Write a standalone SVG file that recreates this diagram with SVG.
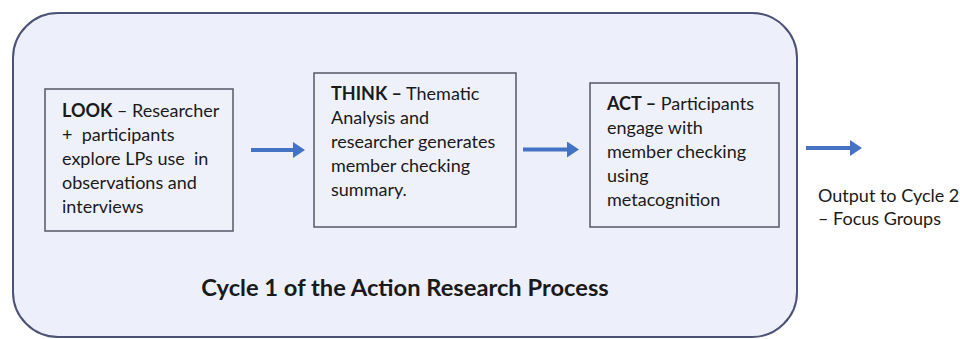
<svg xmlns="http://www.w3.org/2000/svg" width="960" height="339" viewBox="0 0 960 339">
<style>
  .frame { fill: #EDF0FA; stroke: #4B5275; stroke-width: 2; }
  .box { fill: #EEF1FA; stroke: #555866; stroke-width: 1.5; }
  .t { font-family: Lato, "Open Sans", "Liberation Sans", sans-serif; font-size: 18px; fill: #1a1a1a; white-space: pre; }
  .b { font-weight: bold; }
  .cap { font-family: Lato, "Open Sans", "Liberation Sans", sans-serif; font-size: 23.7px; font-weight: bold; fill: #1a1a1a; }
  .arrow { stroke: #4472C4; stroke-width: 4; fill: none; marker-end: url(#ah); }
</style>
<defs>
  <marker id="ah" markerUnits="userSpaceOnUse" viewBox="0 0 12 16" refX="2" refY="8" markerWidth="12" markerHeight="16" orient="auto">
    <path d="M0,0 L12,8 L0,16 Z" fill="#4472C4"/>
  </marker>
</defs>
<rect width="960" height="339" fill="#ffffff"/>
<g id="cycle1">
  <rect class="frame" x="13" y="13" width="784" height="324" rx="45" ry="45"/>
  <text class="cap" x="405" y="296" text-anchor="middle">Cycle 1 of the Action Research Process</text>
</g>
<g id="look">
  <rect class="box" x="45" y="89" width="188" height="142"/>
  <text class="t" x="62" y="117"><tspan class="b">LOOK</tspan> – Researcher</text>
  <text class="t" x="62" y="141" xml:space="preserve">+  participants</text>
  <text class="t" x="62" y="165" xml:space="preserve">explore LPs use  in</text>
  <text class="t" x="62" y="189">observations and</text>
  <text class="t" x="62" y="213">interviews</text>
</g>
<g id="think">
  <rect class="box" x="314" y="73" width="202" height="154"/>
  <text class="t" x="331" y="100"><tspan class="b">THINK –</tspan> Thematic</text>
  <text class="t" x="331" y="124">Analysis and</text>
  <text class="t" x="331" y="148">researcher generates</text>
  <text class="t" x="331" y="172">member checking</text>
  <text class="t" x="331" y="196">summary.</text>
</g>
<g id="act">
  <rect class="box" x="590" y="83" width="189" height="144"/>
  <text class="t" x="607" y="110"><tspan class="b">ACT –</tspan> Participants</text>
  <text class="t" x="607" y="134">engage with</text>
  <text class="t" x="607" y="158">member checking</text>
  <text class="t" x="607" y="182">using</text>
  <text class="t" x="607" y="206">metacognition</text>
</g>
<g id="output">
  <text class="t" x="818" y="202">Output to Cycle 2</text>
  <text class="t" x="818" y="225">– Focus Groups</text>
</g>
<g id="connectors">
  <line class="arrow" x1="251" y1="150" x2="295" y2="150"/>
  <line class="arrow" x1="523" y1="149.5" x2="569" y2="149.5"/>
  <line class="arrow" x1="806" y1="148" x2="852" y2="148"/>
</g>
</svg>
